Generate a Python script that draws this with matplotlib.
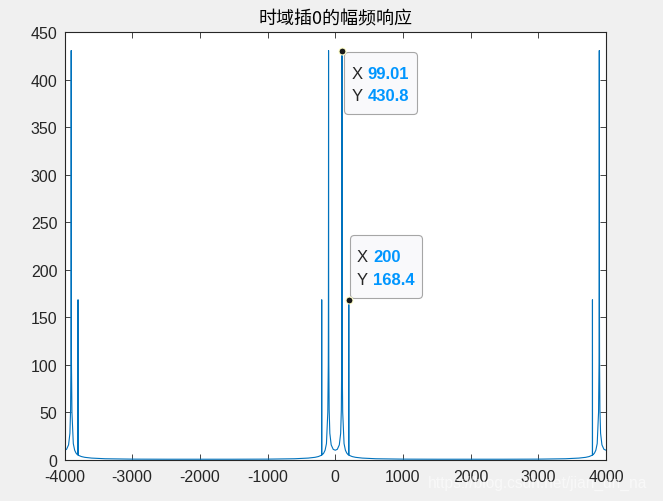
import matplotlib
matplotlib.use('Agg')
import matplotlib.pyplot as plt
from matplotlib.offsetbox import TextArea, HPacker, VPacker, AnnotationBbox, DrawingArea

plt.rcParams['font.family'] = ['Liberation Sans', 'Noto Sans CJK SC']
plt.rcParams['axes.unicode_minus'] = False

# 幅频响应, negative half then positive half
neg_freq = [-4000, -3970, -3940, -3920, -3910, -3905, -3903, -3902, -3900.99, -3900,
            -3899, -3898, -3897, -3890, -3870, -3850, -3830, -3810, -3801, -3800,
            -3799, -3790, -3750, -3700, -3600, -3400, -3000, -2500, -2000, -1500,
            -1000, -600, -400, -300, -250, -210, -201, -200, -199, -190,
            -170, -150, -130, -110, -103, -102, -101, -100, -99.01, -98,
            -97, -95, -90, -80, -60, -30]
neg_mag = [10, 10.9, 15.6, 27.8, 52.6, 103, 169, 260, 430.8, 250,
           170, 125, 100, 50, 17, 10, 7, 5.3, 5, 168.4,
           5, 4.5, 3.3, 2.5, 1.7, 1.0, 0.6, 0.5, 0.5, 0.5,
           0.6, 1.0, 1.7, 2.5, 3.3, 4.5, 5, 168.4, 5, 5.3,
           7, 10, 17, 50, 100, 125, 170, 250, 430.8, 260,
           169, 103, 52.6, 27.8, 15.6, 10.9]
pos_freq = [0, 30, 60, 80, 90, 95, 97, 98, 99.01, 100,
            101, 102, 103, 110, 130, 150, 170, 190, 199, 200,
            201, 210, 250, 300, 400, 600, 1000, 1500, 2000, 2500,
            3000, 3400, 3600, 3700, 3750, 3790, 3799, 3800, 3801, 3810,
            3830, 3850, 3870, 3890, 3897, 3898, 3899, 3900, 3900.99, 3902,
            3903, 3905, 3910, 3920, 3940, 3970, 4000]
pos_mag = [10, 10.9, 15.6, 27.8, 52.6, 103, 169, 260, 430.8, 250,
           170, 125, 100, 50, 17, 10, 7, 5.3, 5, 168.4,
           5, 4.5, 3.3, 2.5, 1.7, 1.0, 0.6, 0.5, 0.5, 0.5,
           0.6, 1.0, 1.7, 2.5, 3.3, 4.5, 5, 168.4, 5, 5.3,
           7, 10, 17, 50, 100, 125, 170, 250, 430.8, 260,
           169, 103, 52.6, 27.8, 15.6, 10.9, 10]

# 数据提示
tip_x = [99.01, 200]
tip_y = [430.8, 168.4]
tip_text = [('99.01', '430.8'), ('200', '168.4')]

freq = neg_freq + pos_freq
mag = neg_mag + pos_mag

W, H = 663, 502
fig = plt.figure(figsize=(W / 100, H / 100), dpi=100, facecolor='#f0f0f0')
ax = fig.add_axes([64.5 / W, (H - 460.7) / H, (606 - 64.5) / W, (460.7 - 33.3) / H])
ax.plot(freq, mag, color='#0072BD', lw=0.8)

ax.set_xlim(-4000, 4000)
ax.set_ylim(0, 450)
ax.set_xticks(range(-4000, 4001, 1000))
ax.set_yticks(range(0, 451, 50))
ax.tick_params(direction='in', top=True, right=True, length=4, width=0.6,
               colors='#262626', labelsize=11.5)
ax.tick_params(axis='x', pad=7)
ax.tick_params(axis='y', pad=5)
for s in ax.spines.values():
    s.set_linewidth(0.8)
    s.set_color('#262626')

fig.text(335.25 / W, 1 - 20 / H, '时域插0的幅频响应', ha='center', va='center',
         fontsize=13, family=['Noto Sans CJK SC'], color='black')


def datatip(x, y, labels, offset, align):
    rows = []
    for name, val in zip(('X ', 'Y '), labels):
        rows.append(HPacker(children=[
            TextArea(name, textprops=dict(color='#262626', size=12)),
            TextArea(val, textprops=dict(color='#0096FF', size=12, weight='bold'))],
            sep=0, pad=0, align='baseline'))
    inner = VPacker(children=rows, sep=5.4, pad=0, align='left')
    box = VPacker(children=[DrawingArea(0, 4.7), inner, DrawingArea(0, 2.5)],
                  sep=0, pad=0, align='left')
    ab = AnnotationBbox(box, (x, y), xybox=offset, xycoords='data',
                        boxcoords='offset points', box_alignment=align,
                        frameon=True, pad=0.55, annotation_clip=False,
                        bboxprops=dict(boxstyle='round,pad=0.55,rounding_size=0.3',
                                       fc='#F9F9FB', ec='#A6A6A6', lw=0.8))
    ab.set_zorder(6)
    ax.add_artist(ab)


datatip(tip_x[0], tip_y[0], tip_text[0], (7.1, -6.2), (0, 1))
datatip(tip_x[1], tip_y[1], tip_text[1], (6.2, 6.9), (0, 0))
ax.plot(tip_x, tip_y, 'o', ms=5, mfc='#1a1a1a', mec='#FFFFCC', mew=0.8,
        zorder=7, clip_on=False)

fig.text(428 / W, 1 - 483 / H, 'https://blog.csdn.net/jian_dn_na', color='white',
         alpha=0.6, fontsize=11.2, ha='left', va='center')

fig.savefig('out.png', dpi=100, facecolor=fig.get_facecolor())
